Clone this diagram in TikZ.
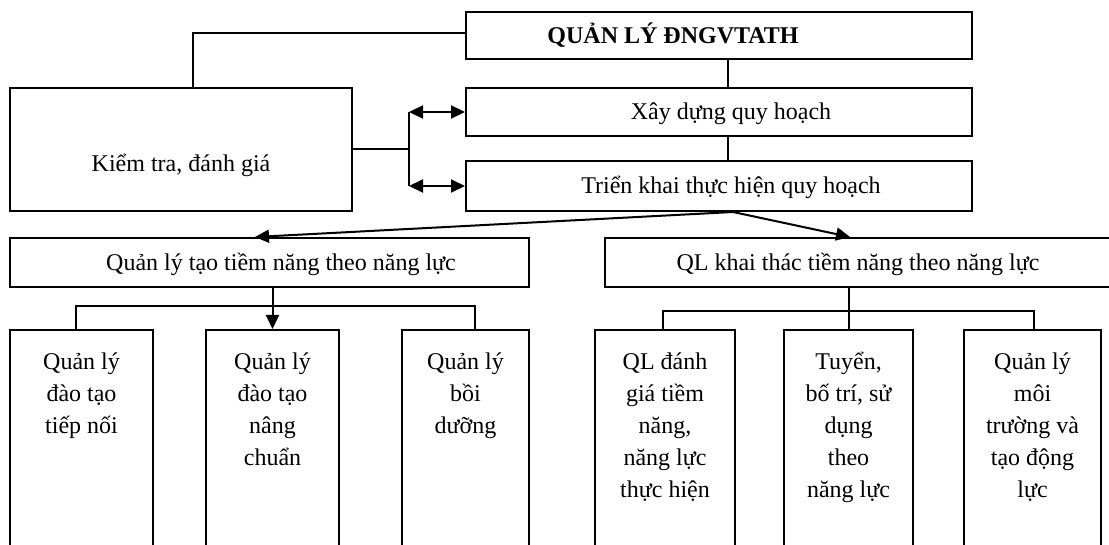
\documentclass[tikz,border=0pt]{standalone}
\usepackage{fontspec}
\setmainfont{Liberation Serif}
\usetikzlibrary{arrows.meta}
\begin{document}
\begin{tikzpicture}[x=1pt,y=-1pt,
  box/.style={draw, line width=2pt, inner sep=0pt, minimum width=#1},
  txt/.style={inner sep=0pt, font=\fontsize{24}{32}\selectfont, anchor=base},
  ctxt/.style={inner sep=0pt, font=\fontsize{24}{32}\selectfont, anchor=north},
  link/.style={line width=2pt},
  tip/.style={line width=2pt, -{Triangle[length=14pt,width=13pt]}},
  dtip/.style={line width=2pt, {Triangle[length=14pt,width=13pt]}-{Triangle[length=14pt,width=13pt]}}]
\useasboundingbox (0,0) rectangle (1109,545);
\clip (0,0) rectangle (1109,545);

% upper part
\node[box=506pt, minimum height=47pt]  (top) at (719,35.5) {};
\node[box=342pt, minimum height=123pt] (kt)  at (181,149.5) {};
\node[box=506pt, minimum height=48pt]  (xd)  at (719,112) {};
\node[box=506pt, minimum height=50pt]  (tk)  at (719,186) {};

\node[txt] (topT) at (673,44)  {\bfseries QUẢN LÝ ĐNGVTATH};
\node[txt] (ktT)  at (181,172) {Kiểm tra, đánh giá};
\node[txt] (xdT)  at (731,120) {Xây dựng quy hoạch};
\node[txt] (tkT)  at (731,194) {Triển khai thực hiện quy hoạch};

% middle row
\node[box=519pt, minimum height=49pt] (qlt) at (269.5,262.5) {};
\node[box=506pt, minimum height=49pt] (qlk) at (858,262.5) {};
\node[txt] (qltT) at (281,271) {Quản lý tạo tiềm năng theo năng lực};
\node[txt] (qlkT) at (858,271) {QL khai thác tiềm năng theo năng lực};

% lower boxes (running past the bottom edge)
\node[box=143pt, minimum height=230pt] (b1) at (81.5,445) {};
\node[box=133pt, minimum height=230pt] (b2) at (272.5,445) {};
\node[box=127pt, minimum height=230pt] (b3) at (465.5,445) {};
\node[box=140pt, minimum height=230pt] (b4) at (665,445) {};
\node[box=129pt, minimum height=230pt] (b5) at (848.5,445) {};
\node[box=137pt, minimum height=230pt] (b6) at (1032.5,445) {};

\node[ctxt] (b1T) at (81.5,346.6)  {\begin{tabular}{@{}c@{}}Quản lý\\đào tạo\\tiếp nối\end{tabular}};
\node[ctxt] (b2T) at (272.5,346.6) {\begin{tabular}{@{}c@{}}Quản lý\\đào tạo\\nâng\\chuẩn\end{tabular}};
\node[ctxt] (b3T) at (465.5,346.6) {\begin{tabular}{@{}c@{}}Quản lý\\bồi\\dưỡng\end{tabular}};
\node[ctxt] (b4T) at (665,346.6)   {\begin{tabular}{@{}c@{}}QL đánh\\giá tiềm\\năng,\\năng lực\\thực hiện\end{tabular}};
\node[ctxt] (b5T) at (848.5,346.6) {\begin{tabular}{@{}c@{}}Tuyển,\\bố trí, sử\\dụng\\theo\\năng lực\end{tabular}};
\node[ctxt] (b6T) at (1032.5,346.6){\begin{tabular}{@{}c@{}}Quản lý\\môi\\trường và\\tạo động\\lực\end{tabular}};

% connectors, upper part
\draw[link] ([yshift=2.5pt]top.west) -| ([xshift=12pt]kt.north);
\draw[link] ([xshift=9pt]top.south) -- ([xshift=9pt]xd.north);
\draw[link] ([xshift=9pt]xd.south) -- ([xshift=9pt]tk.north);
\coordinate (j) at (409,149.5);
\draw[link] (kt.east) -- (j);
\draw[link] (j |- xd.west) -- (j |- tk.west);
\draw[dtip] (j |- xd.west) -- (xd.west);
\draw[dtip] (j |- tk.west) -- (tk.west);

% split towards the two branches
\coordinate (apex) at ([xshift=14pt]tk.south);
\draw[tip] (apex) -- ([xshift=-14.5pt]qlt.north);
\draw[tip] (apex) -- ([xshift=-8pt]qlk.north);

% left branch
\draw[tip] (b2.north |- qlt.south) -- (b2.north);
\draw[link] ([xshift=-5.5pt]b1.north) -- ++(0,-23) -| ([xshift=9.5pt]b3.north);

% right branch
\draw[link] (b5.north |- qlk.south) -- (b5.north);
\draw[link] ([xshift=-2pt]b4.north) -- ++(0,-18) -| ([xshift=1.5pt]b6.north);
\end{tikzpicture}
\end{document}
